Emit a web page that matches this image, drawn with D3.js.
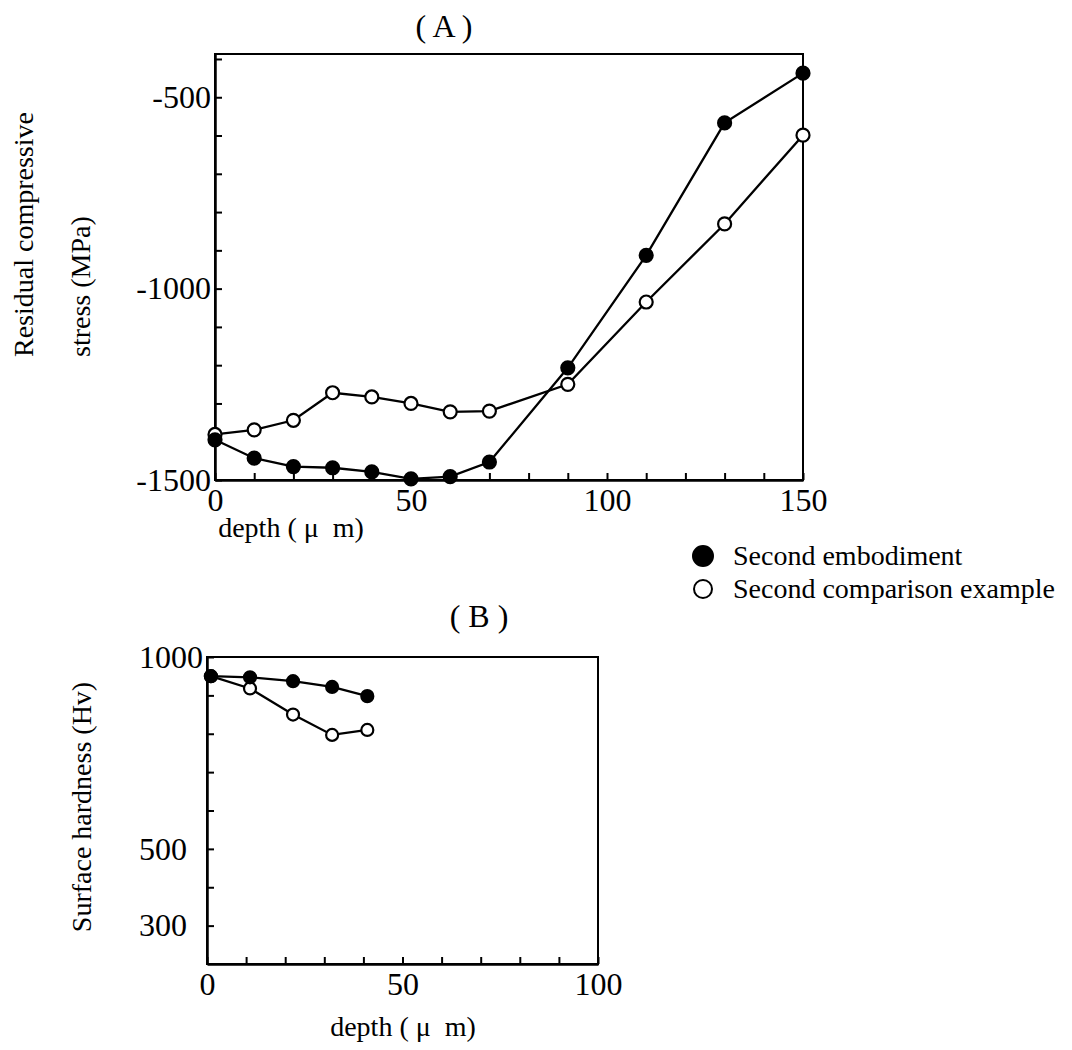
<!DOCTYPE html>
<html>
<head>
<meta charset="utf-8">
<script src="https://cdn.jsdelivr.net/npm/d3@7"></script>
<style>
  body { margin: 0; background: #fff; }
  svg { font-family: "Liberation Serif", serif; }
  .tick text { font-size: 32px; fill: #000; }
  .lbl { font-size: 28px; fill: #000; }
</style>
</head>
<body>
<script>
// chart A - residual compressive stress vs depth
var depthA = [0, 10, 20, 30, 40, 50, 60, 70, 90, 110, 130, 150];
var stressEmbodiment = [-1395, -1443, -1465, -1468, -1479, -1497, -1491, -1453, -1207, -913, -567, -437];
var stressComparison = [-1381, -1369, -1344, -1272, -1283, -1300, -1322, -1320, -1250, -1035, -831, -599];
var xTicksA = [0, 50, 100, 150];
var yTicksA = [-500, -1000, -1500];

// chart B - surface hardness vs depth
var depthB = [1, 11, 22, 32, 41];
var hardEmbodiment = [950, 947, 937, 922, 898];
var hardComparison = [950, 918, 850, 797, 810];
var xTicksB = [0, 50, 100];
var yTicksB = [1000, 500, 300];

var seriesNames = ["Second embodiment", "Second comparison example"];

var svg = d3.select("body").append("svg")
  .attr("width", 1072)
  .attr("height", 1050);

function drawPanel(o) {
  var x = d3.scaleLinear().domain(o.xDomain).range([o.left, o.right]);
  var y = d3.scaleLinear().domain(o.yDomain).range([o.bottom, o.top]);

  // frame
  svg.append("rect")
    .attr("x", o.left).attr("y", o.top)
    .attr("width", o.right - o.left).attr("height", o.bottom - o.top)
    .attr("fill", "none").attr("stroke", "#000").attr("stroke-width", 2);

  var xAxis = svg.append("g")
    .attr("transform", "translate(0," + o.bottom + ")")
    .call(d3.axisBottom(x)
      .tickValues(d3.range(o.xDomain[0], o.xDomain[1] + 1, 10))
      .tickSizeInner(-7).tickSizeOuter(0).tickPadding(8)
      .tickFormat(function(d) { return o.xLabels.indexOf(d) >= 0 ? d : ""; }));
  var yAxis = svg.append("g")
    .attr("transform", "translate(" + o.left + ",0)")
    .call(d3.axisLeft(y)
      .tickValues(d3.range(o.yTickStart, o.yDomain[1] + 1, 100))
      .tickSizeInner(-7).tickSizeOuter(0).tickPadding(4)
      .tickFormat(function(d) { return o.yLabels.indexOf(d) >= 0 ? String(d) : ""; }));

  [xAxis, yAxis].forEach(function(g) {
    g.select(".domain").attr("stroke", "#000").attr("stroke-width", 2.5);
    g.selectAll(".tick line").attr("stroke", "#000").attr("stroke-width", 2);
    g.attr("font-family", null).attr("font-size", null);
  });
  if (o.yAnchorStart) {
    yAxis.selectAll(".tick text").attr("text-anchor", "start").attr("x", o.yAnchorStart - o.left);
  }

  var line = d3.line()
    .x(function(d) { return x(d[0]); })
    .y(function(d) { return y(d[1]); });

  o.series.forEach(function(s) {
    var pts = o.depth.map(function(d, i) { return [d, s.values[i]]; });
    svg.append("path")
      .datum(pts)
      .attr("d", line)
      .attr("fill", "none").attr("stroke", "#000").attr("stroke-width", 2.3);
    svg.selectAll(null)
      .data(pts)
      .enter()
      .append("circle")
      .attr("cx", function(d) { return x(d[0]); })
      .attr("cy", function(d) { return y(d[1]); })
      .attr("r", o.r)
      .attr("fill", s.filled ? "#000" : "#fff")
      .attr("stroke", "#000").attr("stroke-width", 2.2);
  });
}

drawPanel({
  left: 215, right: 803, top: 54, bottom: 480,
  xDomain: [0, 150], yDomain: [-1500, -387], yTickStart: -1500,
  xLabels: xTicksA, yLabels: yTicksA,
  depth: depthA, r: 6.5,
  series: [{ values: stressComparison, filled: false }, { values: stressEmbodiment, filled: true }]
});

drawPanel({
  left: 207, right: 598, top: 657, bottom: 964,
  xDomain: [0, 100], yDomain: [200, 1000], yTickStart: 300,
  xLabels: xTicksB, yLabels: yTicksB, yAnchorStart: 139,
  depth: depthB, r: 6,
  series: [{ values: hardComparison, filled: false }, { values: hardEmbodiment, filled: true }]
});

// titles and axis labels
svg.append("text").attr("class", "lbl").attr("x", 444).attr("y", 37)
  .attr("text-anchor", "middle").style("font-size", "32px").attr("xml:space", "preserve").text("( A )");
svg.append("text").attr("class", "lbl").attr("x", 479).attr("y", 627)
  .attr("text-anchor", "middle").style("font-size", "32px").attr("xml:space", "preserve").text("( B )");

svg.append("text").attr("class", "lbl").attr("x", 291).attr("y", 537)
  .attr("text-anchor", "middle").attr("xml:space", "preserve").text("depth ( \u03bc  m)");
svg.append("text").attr("class", "lbl").attr("x", 403).attr("y", 1036)
  .attr("text-anchor", "middle").attr("xml:space", "preserve").text("depth ( \u03bc  m)");

svg.append("text").attr("class", "lbl")
  .attr("transform", "translate(33,357) rotate(-90)").text("Residual compressive");
svg.append("text").attr("class", "lbl")
  .attr("transform", "translate(90,357) rotate(-90)").text("stress (MPa)");
svg.append("text").attr("class", "lbl")
  .attr("transform", "translate(91,807) rotate(-90)")
  .attr("text-anchor", "middle").text("Surface hardness (Hv)");

// legend
var legend = svg.append("g");
seriesNames.forEach(function(name, i) {
  legend.append("circle")
    .attr("cx", 703).attr("cy", 556 + i * 33)
    .attr("r", i === 0 ? 10 : 9)
    .attr("fill", i === 0 ? "#000" : "#fff")
    .attr("stroke", "#000").attr("stroke-width", 2);
  legend.append("text").attr("class", "lbl")
    .attr("x", 733).attr("y", 565 + i * 33)
    .text(name);
});
</script>
</body>
</html>
